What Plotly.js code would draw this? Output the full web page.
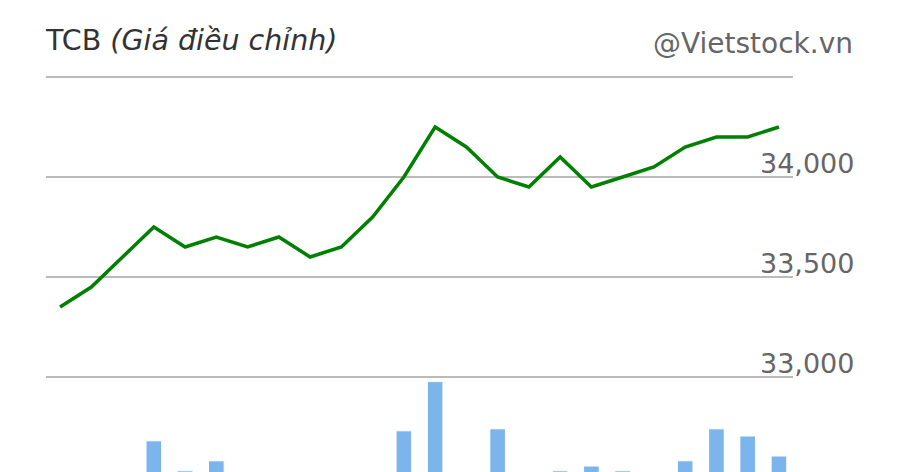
<!DOCTYPE html>
<html>
<head>
<meta charset="utf-8">
<script src="https://cdn.plot.ly/plotly-3.0.1.min.js"></script>
<style>
  html, body { margin: 0; padding: 0; background: #ffffff; }
  #chart { width: 900px; height: 472px; }
</style>
</head>
<body>
<div id="chart"></div>
<script>
// Sessions (dates are not shown on the chart)
const sessions = ['1','2','3','4','5','6','7','8','9','10','11','12',
                  '13','14','15','16','17','18','19','20','21','22','23','24'];
// Adjusted close price (VND)
const prices = [33350, 33450, 33600, 33750, 33650, 33700, 33650, 33700,
                33600, 33650, 33800, 34000, 34250, 34150, 34000, 33950,
                34100, 33950, 34000, 34050, 34150, 34200, 34200, 34250];
// Trading volume (shares); bars are cut off at the bottom of the chart
const volumes = [1600000, 1400000, 1700000, 2780000, 2030000, 2280000, 1500000, 1300000,
                 1800000, 1600000, 1900000, 3030000, 4260000, 1700000, 3080000, 1900000,
                 2030000, 2150000, 2030000, 1800000, 2280000, 3080000, 2900000, 2400000];
// Price axis ticks
const priceTicks = [33000, 33500, 34000, 34500];
const priceTickLabels = ['33,000', '33,500', '34,000', ''];

const FONT = '"DejaVu Sans", "Open Sans", sans-serif';

const volumeTrace = {
  type: 'bar', x: sessions, y: volumes, yaxis: 'y2', width: 0.5,
  marker: { color: '#7cb5ec', line: { color: '#ffffff', width: 1 } },
  hoverinfo: 'skip'
};
const priceTrace = {
  type: 'scatter', mode: 'lines', x: sessions, y: prices,
  line: { color: '#008000', width: 3.5 }, hoverinfo: 'skip'
};

const layout = {
  width: 900, height: 472,
  margin: { l: 46, r: 107, t: 72, b: 0, pad: 0 },
  paper_bgcolor: '#ffffff', plot_bgcolor: '#ffffff', showlegend: false,
  font: { family: FONT, color: '#666666', size: 28 },
  title: {
    text: 'TCB <i>(Giá điều chỉnh)</i>',
    font: { family: FONT, size: 28.5, color: '#333333' },
    xref: 'paper', x: 0, xanchor: 'left',
    yref: 'container', y: 1 - 40 / 472, yanchor: 'middle'
  },
  xaxis: { type: 'category', range: [-0.45, 23.45], showgrid: false, zeroline: false,
           showline: false, showticklabels: false, ticks: '' },
  yaxis: {
    side: 'right', range: [32525, 34525], tickvals: priceTicks, ticktext: priceTickLabels,
    showgrid: true, gridcolor: '#bbbbbb', gridwidth: 2, zeroline: false, showline: false, ticks: '',
    ticklabelposition: 'outside top', ticklabelstandoff: -34, ticklabelshift: 5,
    tickfont: { family: FONT, size: 27, color: '#666666' }
  },
  yaxis2: { overlaying: 'y', side: 'right', range: [2000000, 12000000], visible: false,
            showgrid: false, zeroline: false },
  annotations: [{
    text: '@Vietstock.vn', xref: 'paper', x: (855 - 46) / 747, xanchor: 'right',
    yref: 'paper', y: (472 - 43) / 400, yanchor: 'middle', showarrow: false,
    font: { family: FONT, size: 28, color: '#666666' }
  }]
};

Plotly.newPlot('chart', [volumeTrace, priceTrace], layout, { displayModeBar: false, staticPlot: true });
</script>
</body>
</html>
